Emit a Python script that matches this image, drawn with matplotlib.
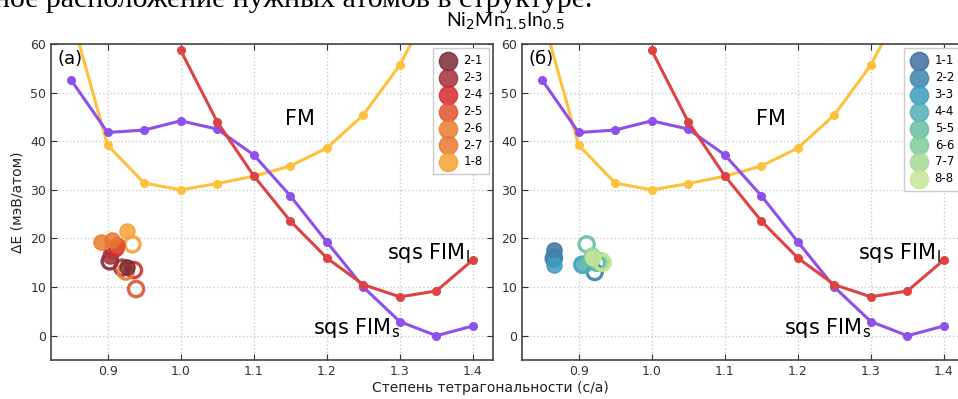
import matplotlib
matplotlib.use("Agg")
import matplotlib.pyplot as plt

# c/a grid and energies of the three magnetic states (meV/atom)
ca_fm = [0.85, 0.90, 0.95, 1.00, 1.05, 1.10, 1.15, 1.20, 1.25, 1.30, 1.35]
e_fm = [66.0, 39.2, 31.4, 30.0, 31.3, 32.8, 34.9, 38.6, 45.4, 55.7, 70.0]

ca_fims = [0.85, 0.90, 0.95, 1.00, 1.05, 1.10, 1.15, 1.20, 1.25, 1.30, 1.35, 1.40]
e_fims = [52.6, 41.8, 42.3, 44.2, 42.5, 37.2, 28.8, 19.3, 10.0, 2.9, 0.0, 2.0]

ca_fiml = [1.00, 1.05, 1.10, 1.15, 1.20, 1.25, 1.30, 1.35, 1.40]
e_fiml = [58.7, 44.0, 32.9, 23.6, 16.0, 10.5, 8.0, 9.2, 15.6]

# configurations, panel (a)
labels_a = ["2-1", "2-3", "2-4", "2-5", "2-6", "2-7", "1-8"]
colors_a = ["#7e2a35", "#a3303a", "#d22e2d", "#e0532f", "#ea7d30", "#e77830", "#f5a132"]
fill_x_a = [0.927, 0.903, 0.911, 0.913, 0.891, 0.906, 0.927]
fill_y_a = [14.2, 16.3, 18.0, 18.7, 19.2, 19.7, 21.6]
open_x_a = [0.903, 0.920, 0.936, 0.939, 0.925, 0.907, 0.934]
open_y_a = [15.3, 14.0, 13.5, 9.6, 13.2, 17.5, 18.8]

# configurations, panel (б)
labels_b = ["1-1", "2-2", "3-3", "4-4", "5-5", "6-6", "7-7", "8-8"]
colors_b = ["#3f6e9e", "#3d84ad", "#3a9cc0", "#52aeb5", "#67bfa5", "#7dcb9a", "#a3da94", "#c4e697"]
fill_x_b = [0.866, 0.866, 0.866, 0.908, 0.915, 0.918, 0.918, 0.920]
fill_y_b = [17.6, 16.4, 14.6, 14.6, 15.8, 16.6, 16.4, 16.0]
open_x_b = [0.866, 0.922, 0.905, 0.925, 0.911, 0.928, 0.931, 0.933]
open_y_b = [15.9, 13.1, 14.6, 15.0, 18.8, 15.2, 15.3, 15.0]

xticks = [0.9, 1.0, 1.1, 1.2, 1.3, 1.4]
yticks = [0, 10, 20, 30, 40, 50, 60]

fig = plt.figure(figsize=(9.58, 3.99), dpi=100)
ax_a = fig.add_axes([0.0532, 0.0977, 0.4614, 0.792])
ax_b = fig.add_axes([0.5449, 0.0977, 0.4614, 0.792])


def draw_panel(ax, tag, labels, colors, fx, fy, ox, oy):
    ax.plot(ca_fm, e_fm, "-o", color="#fdc13c", lw=2.2, ms=5.5, zorder=2)
    ax.plot(ca_fims, e_fims, "-o", color="#8e50ea", lw=2.2, ms=5.5, zorder=2)
    ax.plot(ca_fiml, e_fiml, "-o", color="#de4343", lw=2.2, ms=5.5, zorder=2)

    for i in range(len(labels)):
        ax.scatter(ox[i], oy[i], s=120, facecolors="none", edgecolors=colors[i],
                   linewidths=2.4, alpha=0.9, zorder=3)
        ax.scatter(fx[i], fy[i], s=120, color=colors[i], alpha=0.85,
                   label=labels[i], zorder=4)

    ax.text(1.163, 44.5, "FM", fontsize=15, ha="center", va="center")
    ax.text(1.282, 17.0, r"sqs FIM$_\mathregular{l}$", fontsize=15, va="center")
    ax.text(1.181, 1.5, r"sqs FIM$_\mathregular{s}$", fontsize=15, va="center")
    ax.text(0.832, 57.0, tag, fontsize=13, va="center")

    ax.set_xlim(0.8225, 1.4275)
    ax.set_ylim(-5, 60)
    ax.set_xticks(xticks)
    ax.set_yticks(yticks)
    ax.grid(True, linestyle=":", color="#cccccc", lw=1.0)
    ax.tick_params(direction="in", top=True, right=True, labelsize=9,
                   colors="#333333", length=4)
    for sp in ax.spines.values():
        sp.set_color("#444444")
        sp.set_linewidth(1.2)

    leg = ax.legend(loc="upper right", fontsize=8.5, markerscale=1.2,
                    handletextpad=0.5, borderpad=0.5, labelspacing=0.33,
                    handlelength=1.6, fancybox=False, framealpha=1,
                    edgecolor="#cccccc", borderaxespad=0.35)
    return leg


draw_panel(ax_a, "(a)", labels_a, colors_a, fill_x_a, fill_y_a, open_x_a, open_y_a)
draw_panel(ax_b, "(б)", labels_b, colors_b, fill_x_b, fill_y_b, open_x_b, open_y_b)

ax_a.set_ylabel("ΔE (мэВ/атом)", fontsize=10, color="#222222")
fig.text(490 / 958, 1 - 388 / 399, "Степень тетрагональности (c/a)",
         ha="center", va="center", fontsize=10, color="#222222")

fig.text(506 / 958, 1 - 21 / 399, r"Ni$_2$Mn$_{1.5}$In$_{0.5}$",
         ha="center", va="center", fontsize=14, family="Lato")

# tail of the preceding paragraph, cut by the top edge
fig.text(-0.006, 1 - 7 / 399, "ное расположение нужных атомов в структуре.",
         ha="left", va="baseline", fontsize=21.5, family="Liberation Serif")

fig.savefig("out.png", dpi=100)
